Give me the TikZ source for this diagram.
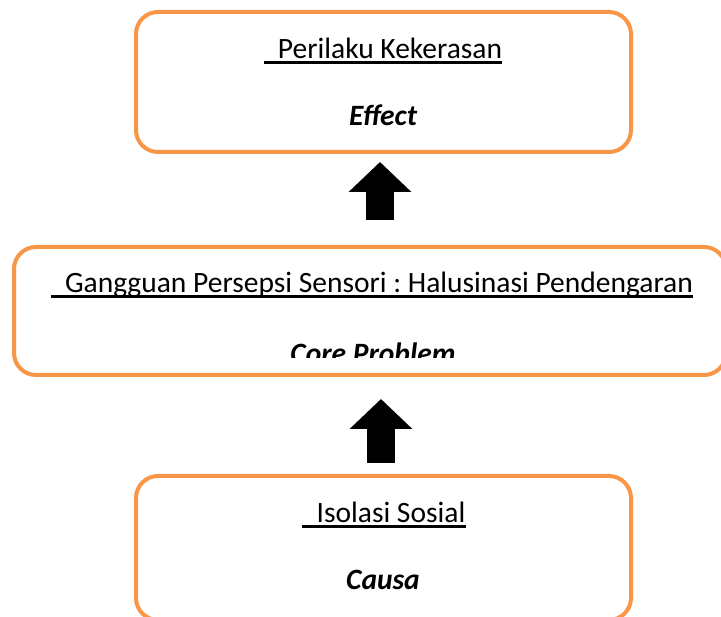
\documentclass[tikz,border=0pt]{standalone}
\usepackage{fontspec}
\setmainfont{Carlito}
\frenchspacing
\usetikzlibrary{arrows.meta}
\definecolor{boxorange}{RGB}{247,150,70}
\tikzset{
  box/.style={draw=boxorange, line width=4pt, rounded corners=22pt, inner sep=0pt},
  title/.style={anchor=base, inner sep=0pt, font=\fontsize{29.5}{35}\selectfont},
  role/.style={anchor=base, inner sep=0pt, font=\fontsize{29.5}{35}\selectfont\bfseries\itshape},
  uline/.style={line width=3pt},
  bigarrow/.style={line width=28pt, -{Triangle[width=61pt,length=30pt]}}
}
\begin{document}
\begin{tikzpicture}[x=1pt,y=-1pt]
\useasboundingbox (0,0) rectangle (721,617);
\clip (0,0) rectangle (721,617);
% boxes
\node[box, minimum width=495pt, minimum height=140pt] (effect) at (383.5,82) {};
\node[box, minimum width=712pt, minimum height=128pt] (core) at (370,311) {};
\node[box, minimum width=495pt, minimum height=144pt] (cause) at (383.5,548) {};
% texts
\node[title] (effecttitle) at (383,59) {\hspace{14pt}Perilaku Kekerasan};
\draw[uline] ([yshift=-4pt]effecttitle.base west) -- ([yshift=-4pt]effecttitle.base east);
\node[role] (effectrole) at (383,126) {Effect};
\node[title] (coretitle) at (372,293) {\hspace{14pt}Gangguan Persepsi Sensori : Halusinasi Pendengaran};
\draw[uline] ([yshift=-4pt]coretitle.base west) -- ([yshift=-4pt]coretitle.base east);
\begin{scope}
\clip (0,0) rectangle (721,358);
\node[role] (corerole) at (373,364) {Core Problem};
\end{scope}
\node[title] (causetitle) at (384,523) {\hspace{14pt}Isolasi Sosial};
\draw[uline] ([yshift=-4pt]causetitle.base west) -- ([yshift=-4pt]causetitle.base east);
\node[role] (causerole) at (383,590) {Causa};
% arrows
\coordinate (upperfoot) at (effect.south |- core.north);
\coordinate (lowertip) at (cause.north |- core.south);
\draw[bigarrow] ([xshift=-3.5pt,yshift=25pt]upperfoot) -- ([xshift=-3.5pt,yshift=-8pt]effect.south);
\draw[bigarrow] ([xshift=-2.5pt,yshift=11pt]cause.north) -- ([xshift=-2.5pt,yshift=-22pt]lowertip);
\end{tikzpicture}
\end{document}
